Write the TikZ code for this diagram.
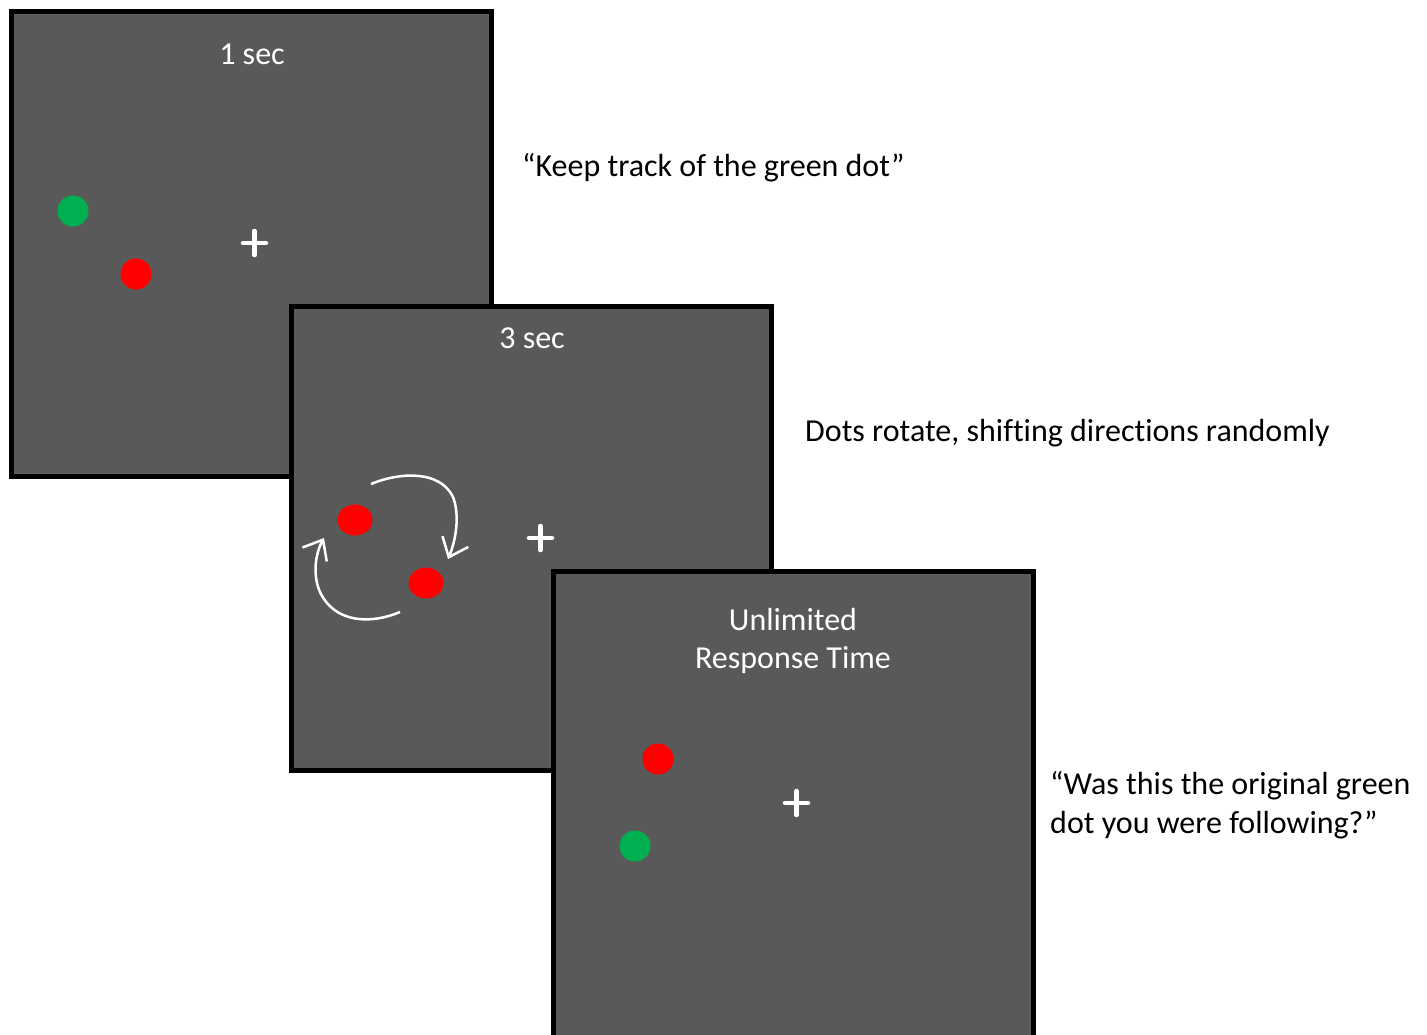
\documentclass[tikz,border=0pt]{standalone}
\usepackage{fontspec}
\setmainfont{Carlito}[Ligatures={TeX,NoCommon}]
\usetikzlibrary{arrows.meta}
\definecolor{scr}{RGB}{89,89,89}
\definecolor{dgreen}{RGB}{0,176,80}
\definecolor{dred}{RGB}{255,0,0}
\tikzset{
  screen/.style={fill=scr,draw=black,line width=5pt},
  reddot/.style={fill=dred,draw=none},
  greendot/.style={fill=dgreen,draw=none},
  fix/.style={draw=white,line width=4.5pt,line cap=round},
  paneltext/.style={text=white,font=\fontsize{32}{38.5}\selectfont,align=center,inner sep=0pt},
  outtext/.style={text=black,font=\fontsize{32}{38.5}\selectfont,align=left,anchor=west,inner sep=0pt},
  motion/.style={draw=white,line width=2.5pt,-{Straight Barb[length=17pt,width=28pt,line width=2.5pt]}}
}
\begin{document}
\begin{tikzpicture}[x=1pt,y=-1pt]
\useasboundingbox[fill=white] (0,0) rectangle (1427,1034);
% panel 1
\draw[screen] (11,11.5) rectangle (491.5,476);
\node[paneltext] (t1) at (252,54) {1 sec};
\fill[greendot] (73,211) circle (15.5);
\fill[reddot] (136,274) circle (15.5);
\draw[fix] (243,243) -- (266,243);
\draw[fix] (254.5,231) -- (254.5,255);
% panel 2
\draw[screen] (291.5,306.5) rectangle (771.5,770.5);
\node[paneltext] (t2) at (532,338) {3 sec};
\fill[reddot] (355,520) ellipse (17.5 and 15.5);
\fill[reddot] (426,583) ellipse (17.5 and 15.5);
\draw[fix] (529,538) -- (552,538);
\draw[fix] (540.5,526) -- (540.5,550);
\draw[motion] (371,484) .. controls (400,472) and (440,470) .. (453,497) .. controls (460,515) and (456,540) .. (448,559);
\draw[motion] (400,612) .. controls (372,624) and (335,624) .. (320,592) .. controls (312,574) and (316,552) .. (324,538);
% panel 3
\draw[screen] (553.5,571.5) -- (553.5,1040) -- (1033.5,1040) -- (1033.5,571.5) -- cycle;
\node[paneltext] (t3) at (793,641) {Unlimited\\Response Time};
\fill[reddot] (658,759) circle (15.5);
\fill[greendot] (635,846) circle (15.5);
\draw[fix] (785,803) -- (808,803);
\draw[fix] (796.5,791) -- (796.5,815);
% captions
\node[outtext] (c1) at (522,168) {“Keep track of the green dot”};
\node[outtext] (c2) at (805,433) {Dots rotate, shifting directions randomly};
\node[outtext] (c3) at (1050,805) {“Was this the original green\\dot you were following?”};
\end{tikzpicture}
\end{document}
